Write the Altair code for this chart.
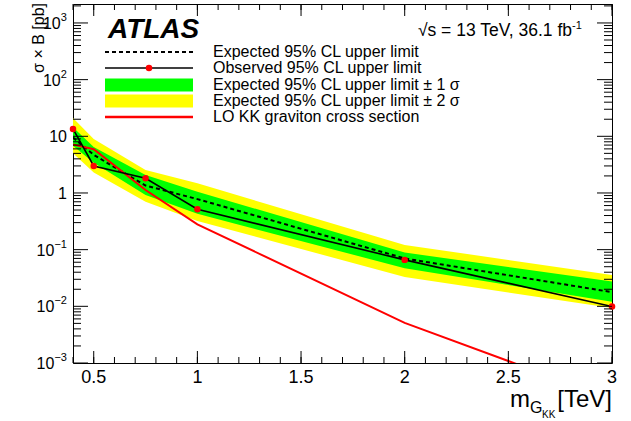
import altair as alt
import pandas as pd

# Graviton mass points [TeV] and 95% CL limits on sigma x B [pb]
mass = [0.4, 0.5, 0.75, 1.0, 2.0, 3.0]
observed = [13.5, 3.0, 1.82, 0.515, 0.066, 0.0099]
expected = [9.5, 4.7, 1.35, 0.78, 0.070, 0.0178]
exp_plus1 = [14.5, 6.5, 2.07, 1.05, 0.089, 0.0273]
exp_minus1 = [6.8, 3.4, 0.92, 0.43, 0.047, 0.0121]
exp_plus2 = [21.0, 9.0, 2.54, 1.48, 0.121, 0.0358]
exp_minus2 = [5.0, 2.3, 0.70, 0.32, 0.033, 0.0093]

# LO KK graviton cross section [pb]
theory_mass = [0.4, 0.5, 0.75, 1.0, 2.0, 3.0]
theory_xsec = [7.2, 5.9, 1.13, 0.28, 0.0051, 0.00023]

# Axis ticks and labels
x_major = [0.5, 1.0, 1.5, 2.0, 2.5, 3.0]
x_labels = ["0.5", "1", "1.5", "2", "2.5", "3"]
x_minor = [round(0.4 + 0.1 * i, 1) for i in range(27)]
y_major = [1e-3, 1e-2, 1e-1, 1.0, 10.0, 100.0, 1000.0]
y_label_base = ["10", "10", "10", "1", "10", "10", "10"]
y_label_exp = ["−3", "−2", "−1", "", "", "2", "3"]
y_minor = [k * 10.0 ** e for e in range(-3, 4) for k in range(2, 10) if k * 10.0 ** e < 2160]

legend_labels = [
    "Expected 95% CL upper limit",
    "Observed 95% CL upper limit",
    "Expected 95% CL upper limit ± 1 σ",
    "Expected 95% CL upper limit ± 2 σ",
    "LO KK graviton cross section",
]

W, H = 539, 359
FONT = "Liberation Sans"

xs = alt.Scale(domain=[0.4, 3.0], nice=False, zero=False)
ys = alt.Scale(type="log", domain=[1e-3, 2160], nice=False)

limits = pd.DataFrame({
    "mass": mass, "obs": observed, "exp": expected,
    "p1": exp_plus1, "m1": exp_minus1, "p2": exp_plus2, "m2": exp_minus2,
})
theory = pd.DataFrame({"mass": theory_mass, "xsec": theory_xsec})
anchor = pd.DataFrame({"k": [0]})

band2 = alt.Chart(limits).mark_area(color="#ffff00", clip=True).encode(
    x=alt.X("mass:Q", scale=xs, axis=None),
    y=alt.Y("m2:Q", scale=ys, axis=None),
    y2="p2:Q",
)
band1 = alt.Chart(limits).mark_area(color="#00ff00", clip=True).encode(
    x=alt.X("mass:Q", scale=xs, axis=None),
    y=alt.Y("m1:Q", scale=ys, axis=None),
    y2="p1:Q",
)
exp_line = alt.Chart(limits).mark_line(
    color="black", strokeWidth=2, strokeDash=[4, 3], clip=True
).encode(
    x=alt.X("mass:Q", scale=xs, axis=None),
    y=alt.Y("exp:Q", scale=ys, axis=None),
)
theory_line = alt.Chart(theory).mark_line(color="#ff0000", strokeWidth=2, clip=True).encode(
    x=alt.X("mass:Q", scale=xs, axis=None),
    y=alt.Y("xsec:Q", scale=ys, axis=None),
)
obs_line = alt.Chart(limits).mark_line(color="black", strokeWidth=1.6, clip=True).encode(
    x=alt.X("mass:Q", scale=xs, axis=None),
    y=alt.Y("obs:Q", scale=ys, axis=None),
)
obs_pts = alt.Chart(limits).mark_circle(color="#ff0000", size=42, opacity=1).encode(
    x=alt.X("mass:Q", scale=xs, axis=None),
    y=alt.Y("obs:Q", scale=ys, axis=None),
)


# Inward-pointing ticks on all four sides of the frame
def x_ticks(values, length):
    df = pd.DataFrame({"v": values})
    enc = dict(x=alt.X("v:Q", scale=xs, axis=None))
    bottom = alt.Chart(df).mark_rule(color="black", strokeWidth=1).encode(
        y=alt.value(H), y2=alt.value(H - length), **enc)
    top = alt.Chart(df).mark_rule(color="black", strokeWidth=1).encode(
        y=alt.value(0), y2=alt.value(length), **enc)
    return [bottom, top]


def y_ticks(values, length):
    df = pd.DataFrame({"v": values})
    enc = dict(y=alt.Y("v:Q", scale=ys, axis=None))
    left = alt.Chart(df).mark_rule(color="black", strokeWidth=1).encode(
        x=alt.value(0), x2=alt.value(length), **enc)
    right = alt.Chart(df).mark_rule(color="black", strokeWidth=1).encode(
        x=alt.value(W), x2=alt.value(W - length), **enc)
    return [left, right]


ticks = x_ticks(x_minor, 6) + x_ticks(x_major, 12) + y_ticks(y_minor, 8) + y_ticks(y_major, 15)

x_tick_labels = alt.Chart(pd.DataFrame({"v": x_major, "label": x_labels})).mark_text(
    font=FONT, fontSize=18, align="center", baseline="alphabetic", color="black"
).encode(
    x=alt.X("v:Q", scale=xs, axis=None),
    y=alt.value(H + 20),
    text="label:N",
)

# Decade labels: base and raised exponent, right-aligned as a whole
y_lab = alt.Chart(
    pd.DataFrame({"v": y_major, "base": y_label_base, "power": y_label_exp})
).transform_calculate(
    split="-6 - 6.3 * length(datum.power)"
)
y_base = y_lab.mark_text(
    font=FONT, fontSize=16, align="right", baseline="alphabetic", dy=6, color="black"
).encode(
    x=alt.X("split:Q", scale=None, axis=None),
    y=alt.Y("v:Q", scale=ys, axis=None),
    text="base:N",
)
y_power = y_lab.mark_text(
    font=FONT, fontSize=11, align="left", baseline="alphabetic", dy=-2, color="black"
).encode(
    x=alt.X("split:Q", scale=None, axis=None),
    y=alt.Y("v:Q", scale=ys, axis=None),
    text="power:N",
)


def label(text, x, y, size=16, align="left", **kw):
    return alt.Chart(anchor).mark_text(
        text=text, font=FONT, fontSize=size, align=align, baseline="alphabetic",
        color="black", **kw
    ).encode(x=alt.value(x), y=alt.value(y))


# Axis titles
y_title = label("σ × B [pb]", -29, -1, size=16, align="right", angle=270)
x_title = [
    label("m", 437, 403, size=24),
    label("G", 457, 409, size=16),
    label("KK", 469, 414, size=10),
    label("[TeV]", 539, 403, size=24, align="right"),
]

# ATLAS label and run conditions
atlas = label("ATLAS", 35, 34, size=28, fontStyle="italic", fontWeight="bold")
energy = [
    label("√s = 13 TeV, 36.1 fb", 499, 32, size=17.5, align="right"),
    label("-1", 499, 25, size=11),
]

# Legend
LX0, LX1, TX = 32, 120, 140
rows = [48, 64, 81, 97, 113]
leg = [
    alt.Chart(anchor).mark_rule(color="black", strokeWidth=2, strokeDash=[4, 3]).encode(
        x=alt.value(LX0), x2=alt.value(LX1), y=alt.value(rows[0])),
    alt.Chart(anchor).mark_rule(color="black", strokeWidth=1.6).encode(
        x=alt.value(LX0), x2=alt.value(LX1), y=alt.value(rows[1])),
    alt.Chart(anchor).mark_circle(color="#ff0000", size=42, opacity=1).encode(
        x=alt.value((LX0 + LX1) / 2), y=alt.value(rows[1])),
    alt.Chart(anchor).mark_rect(color="#00ff00").encode(
        x=alt.value(LX0), x2=alt.value(LX1), y=alt.value(rows[2] - 6.5), y2=alt.value(rows[2] + 6.5)),
    alt.Chart(anchor).mark_rect(color="#ffff00").encode(
        x=alt.value(LX0), x2=alt.value(LX1), y=alt.value(rows[3] - 6.5), y2=alt.value(rows[3] + 6.5)),
    alt.Chart(anchor).mark_rule(color="#ff0000", strokeWidth=2.5).encode(
        x=alt.value(LX0), x2=alt.value(LX1), y=alt.value(rows[4])),
]
leg_text = [label(t, TX, r + 5, size=16) for t, r in zip(legend_labels, rows)]

chart = alt.layer(
    band2, band1, exp_line, theory_line, obs_line, obs_pts,
    *ticks, x_tick_labels, y_base, y_power, y_title, *x_title, atlas, *energy,
    *leg, *leg_text,
).properties(
    width=W, height=H,
    padding={"left": 73, "top": 4, "right": 19, "bottom": 58},
    autosize=alt.AutoSizeParams(type="none"),
    background="white",
).configure_view(
    stroke="black", strokeWidth=1,
)

chart.save("out.html", embed_options={"renderer": "svg", "actions": False})
